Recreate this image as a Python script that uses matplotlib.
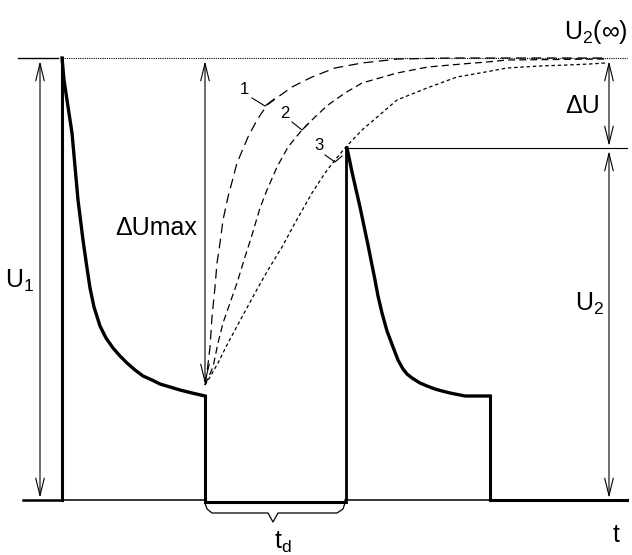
import matplotlib
matplotlib.use("Agg")
import matplotlib.pyplot as plt

plt.rcParams['font.family'] = ['Liberation Sans', 'DejaVu Sans']
plt.rcParams['mathtext.fontset'] = 'custom'
plt.rcParams['mathtext.rm'] = 'Liberation Sans'
plt.rcParams['mathtext.fallback'] = 'stix'
plt.rcParams['lines.scale_dashes'] = False

# levels (picture coordinates, y grows downwards)
top = 58
base = 500
u2_level = 148

# first pulse decay
decay1_x = [62, 64, 67, 72, 78, 83, 87, 90, 94, 100, 106, 113, 120, 127, 135,
            143, 152, 160, 170, 180, 192, 205]
decay1_y = [58, 80, 100, 133, 200, 240, 268, 288, 307, 326, 338, 348, 356, 363,
            370, 376, 380, 384, 387, 390, 393, 396]

# second pulse decay
decay2_x = [347, 352, 360, 368, 375, 378, 382, 387, 393, 398, 403, 407, 412,
            420, 427, 435, 442, 450, 465, 490]
decay2_y = [148, 172, 207, 245, 280, 296, 313, 331, 347, 360, 369, 374, 378,
            383, 386, 389, 391, 393, 396, 396]

# recovery curves 1, 2, 3
c1_x = [205, 207, 210, 212, 215, 217, 220, 223, 228, 237, 248, 257, 267, 278,
        292, 312, 335, 362, 380, 398, 450, 605]
c1_y = [385, 373, 347, 317, 287, 263, 243, 220, 197, 163, 137, 120, 105, 97,
        87, 77, 68, 63, 61, 59, 58, 58]

c2_x = [205, 213, 218, 223, 230, 237, 245, 252, 260, 267, 277, 288, 302, 315,
        328, 345, 362, 397, 428, 462, 487, 507, 605]
c2_y = [385, 367, 343, 323, 303, 283, 257, 235, 208, 190, 167, 147, 130, 117,
        105, 93, 83, 73, 67, 64, 62, 60, 59]

c3_x = [205, 210, 218, 228, 242, 255, 268, 282, 295, 312, 325, 335, 345, 362,
        397, 427, 457, 480, 507, 540, 567, 590, 605]
c3_y = [385, 377, 363, 343, 317, 293, 270, 247, 223, 193, 173, 160, 148, 130,
        100, 88, 77, 73, 68, 66, 65, 64, 63]

fig = plt.figure(figsize=(6.32, 5.55), dpi=100)
ax = fig.add_axes([0, 0, 1, 1])
ax.set_xlim(0, 632)
ax.set_ylim(555, 0)
ax.axis('off')

k = 'black'
thick = 2.2
thin = 0.8

# top reference line
ax.plot([18, 58], [top, top], color=k, lw=1.0)
ax.plot([62, 627], [top, top], color=k, lw=0.8, dashes=(0.8, 0.8))

# baseline
ax.plot([23, 62], [base, base], color=k, lw=1.8)
ax.plot([62, 205], [base, base], color=k, lw=1.1)
ax.plot([205, 345], [base + 2, base + 2], color=k, lw=thick)
ax.plot([345, 490], [base, base], color=k, lw=1.1)
ax.plot([490, 627], [base, base], color=k, lw=thick)

# U2 level line
ax.plot([347, 627], [u2_level, u2_level], color=k, lw=thin)

# pulses
ax.plot([62, 62], [base, top], color=k, lw=thick)
ax.plot(decay1_x, decay1_y, color=k, lw=thick + 0.2, solid_joinstyle='round')
ax.plot([205, 205], [decay1_y[-1], base + 2], color=k, lw=thick)
ax.plot([346, 346], [base + 2, u2_level], color=k, lw=2.0)
ax.plot(decay2_x, decay2_y, color=k, lw=thick + 0.2, solid_joinstyle='round')
ax.plot([490, 490], [decay2_y[-1], base], color=k, lw=thick)

# recovery curves
ax.plot(c1_x, c1_y, color=k, lw=0.9, dashes=(7, 4))
ax.plot(c2_x, c2_y, color=k, lw=0.9, dashes=(5, 3))
ax.plot(c3_x, c3_y, color=k, lw=0.9, dashes=(2.5, 2))

# curve labels with leaders
for lab, (tx, ty), pts in [
        ('1', (244, 89), [(252, 98), (265, 106), (274, 99)]),
        ('2', (285, 113), [(292, 122), (302, 130), (308, 124)]),
        ('3', (319, 145), [(325, 155), (335, 162), (342, 156)])]:
    ax.text(tx, ty, lab, fontsize=12, ha='center', va='center')
    ax.plot([p[0] for p in pts], [p[1] for p in pts], color=k, lw=0.8)


def arrow(x, y0, y1):
    ax.annotate('', xy=(x, y1), xytext=(x, y0),
                arrowprops=dict(arrowstyle='<->, head_length=0.9, head_width=0.22',
                                mutation_scale=14, lw=0.8, color=k,
                                shrinkA=0, shrinkB=0))


arrow(40, top + 3, base - 2)
arrow(205, top + 3, 384)
arrow(609, top + 3, u2_level - 2)
arrow(609, u2_level + 3, base - 2)

# brace under td
bx = [205, 207, 212, 268, 273, 278, 337, 343, 345]
by = [503, 509, 513, 513, 522, 513, 513, 509, 503]
ax.plot(bx, by, color=k, lw=0.9)

fs = 18
ax.text(20, 281, r'$\mathrm{U}_{1}$', fontsize=fs, ha='center', va='center')
ax.text(156, 228, 'ΔUmax', fontsize=fs, ha='center', va='center')
ax.text(596, 32, r'$\mathrm{U}_{2}(\infty)$', fontsize=fs, ha='center', va='center')
ax.text(583, 106, 'ΔU', fontsize=fs, ha='center', va='center')
ax.text(590, 304, r'$\mathrm{U}_{2}$', fontsize=fs, ha='center', va='center')
ax.text(616, 535, 't', fontsize=fs, ha='center', va='center')
ax.text(283, 542, r'$\mathrm{t}_{\mathrm{d}}$', fontsize=fs, ha='center', va='center')

fig.savefig('out.png', dpi=100)
